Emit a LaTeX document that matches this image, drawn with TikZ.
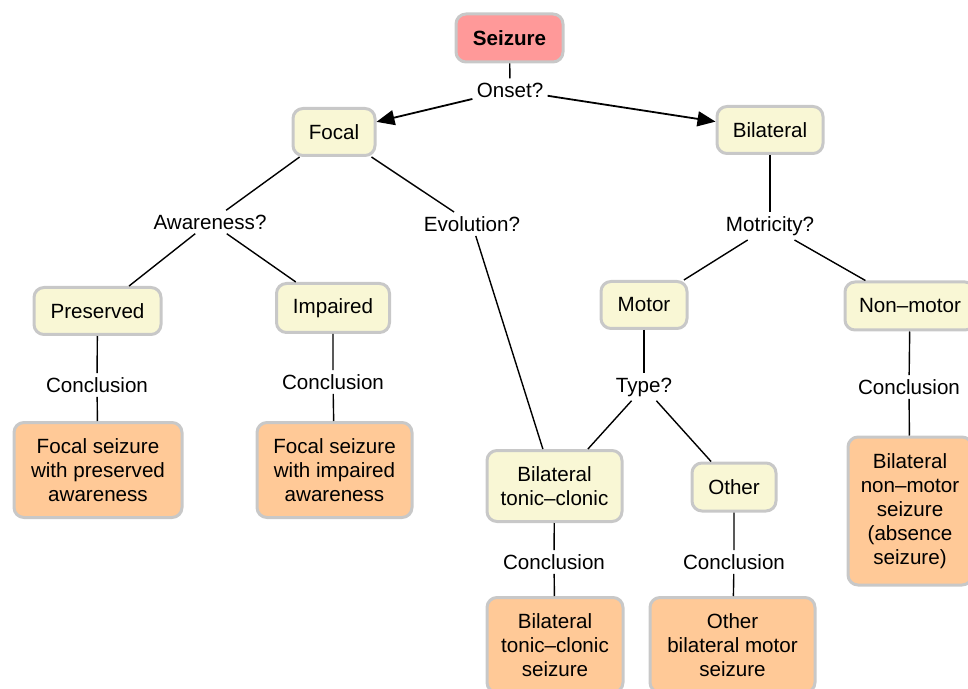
\documentclass[tikz,border=0pt]{standalone}
\usepackage{fontspec}
\setmainfont{Liberation Sans}
\usepackage{tikz}
\usetikzlibrary{arrows.meta,shapes,positioning}
\usepackage{xcolor}
\definecolor{szred}{RGB}{255,153,153}
\definecolor{szyellow}{RGB}{249,247,213}
\definecolor{szorange}{RGB}{255,201,151}
\definecolor{szgray}{RGB}{200,200,200}
\tikzstyle{root} = [rectangle, rounded corners=5pt, minimum height=24pt, text centered, align=center, draw=szgray, fill=szred, line width=1.5pt, font=\fontsize{10.3}{12}\selectfont\bfseries]
\tikzstyle{choice} = [rectangle, rounded corners=5pt, minimum height=23.5pt, text centered, align=center, draw=szgray, fill=szyellow, line width=1.5pt, font=\fontsize{10.3}{12}\selectfont]
\tikzstyle{result} = [rectangle, rounded corners=5pt, minimum height=47.5pt, text centered, align=center, draw=szgray, fill=szorange, line width=1.5pt, font=\fontsize{10.3}{12}\selectfont]
\tikzstyle{question} = [inner sep=2pt, font=\fontsize{10.3}{12}\selectfont]
\tikzstyle{link} = [line width=0.7pt]
\tikzstyle{arrow} = [line width=0.9pt, -{Triangle[length=9pt,width=7.5pt]}]
\begin{document}
\begin{tikzpicture}[x=0.5pt, y=-0.5pt]
\useasboundingbox (0,0) rectangle (968,689);

% Seizure and onset
\node[root, minimum width=53.5pt] (seizure) at (509.5,38) {Seizure};
\node[question] (onset) at (510,90) {Onset?};
\node[choice, minimum width=41pt] (focal) at (334,132) {Focal};
\node[choice, minimum width=53pt] (bilat) at (770,130) {Bilateral};

% Questions
\node[question] (aware) at (210,222) {Awareness?};
\node[question] (evol) at (472,224) {Evolution?};
\node[question] (motric) at (770,226) {Motricity?};

% Second level
\node[choice, minimum width=63.5pt] (pres) at (97.5,311) {Preserved};
\node[choice, minimum width=56.5pt, minimum height=24.5pt] (impair) at (333,308) {Impaired};
\node[choice, minimum width=43pt] (motor) at (644,305) {Motor};
\node[choice, minimum width=65pt, minimum height=24pt] (nonmotor) at (910,306) {Non--motor};
\node[question] (type) at (644,387) {Type?};
\node[choice, minimum width=67.5pt, minimum height=35.5pt] (btc) at (554.5,486) {Bilateral\\tonic--clonic};
\node[choice, minimum width=42pt, minimum height=24pt] (other) at (734,487) {Other};

% Conclusions
\node[question] (concpres) at (97,385) {Conclusion};
\node[question] (concimp) at (333,382) {Conclusion};
\node[question] (concnon) at (909,387) {Conclusion};
\node[question] (concbtc) at (554,562) {Conclusion};
\node[question] (concoth) at (734,562) {Conclusion};

% Results
\node[result, minimum width=84pt] (respres) at (98,470) {Focal seizure\\with preserved\\awareness};
\node[result, minimum width=77.5pt] (resimp) at (334.5,470) {Focal seizure\\with impaired\\awareness};
\node[result, minimum width=68pt] (resbtc) at (555,645) {Bilateral\\tonic--clonic\\seizure};
\node[result, minimum width=82.5pt] (resoth) at (732.5,645) {Other\\bilateral motor\\seizure};
\node[result, minimum width=62pt, minimum height=74pt] (resnon) at (910,511) {Bilateral\\non--motor\\seizure\\(absence\\seizure)};

% Onset arrows
\draw[link] (seizure) -- (onset);
\draw[arrow] (onset) -- (focal);
\draw[arrow] (onset) -- (bilat);

% Focal branch
\draw[link] (focal) -- (aware);
\draw[link] (aware) -- (pres);
\draw[link] (aware) -- (impair);
\draw[link] (focal) -- (evol);
\draw[link] (evol) -- (btc);
\draw[link] (pres) -- (concpres) -- (respres);
\draw[link] (impair) -- (concimp) -- (resimp);

% Bilateral branch
\draw[link] (bilat) -- (motric);
\draw[link] (motric) -- (motor);
\draw[link] (motric) -- (nonmotor);
\draw[link] (motor) -- (type);
\draw[link] (type) -- (btc);
\draw[link] (type) -- (other);
\draw[link] (nonmotor) -- (concnon) -- (resnon);
\draw[link] (btc) -- (concbtc) -- (resbtc);
\draw[link] (other) -- (concoth) -- (resoth);
\end{tikzpicture}
\end{document}
